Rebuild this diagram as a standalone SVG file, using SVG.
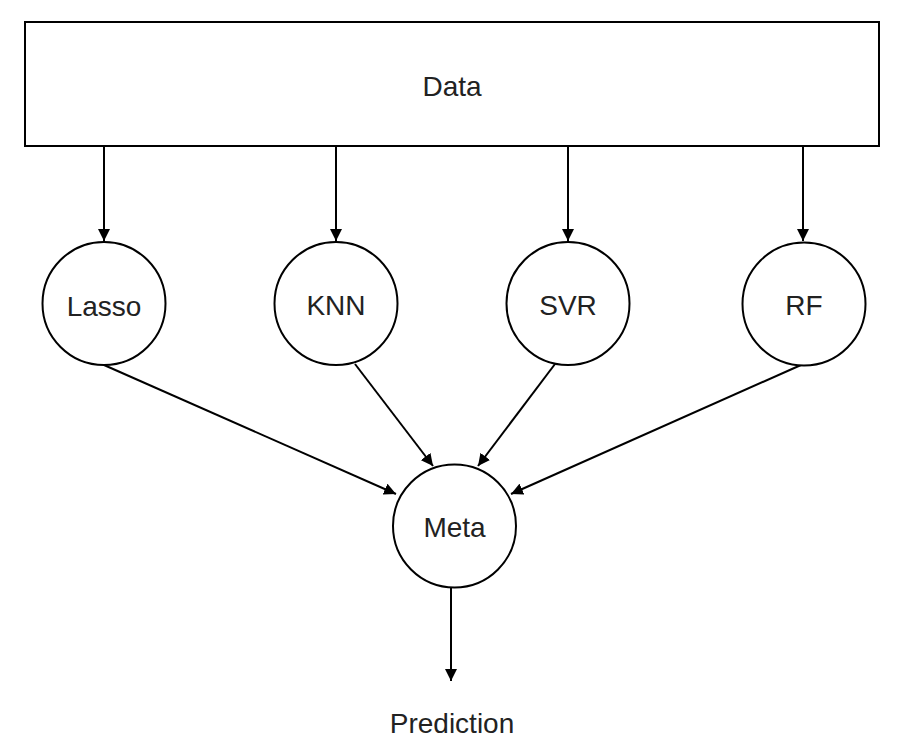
<svg xmlns="http://www.w3.org/2000/svg" width="922" height="744" viewBox="0 0 922 744">
<defs>
<style>
.n{fill:#fff;stroke:#000;stroke-width:2}
.t{font-family:"Liberation Sans",Arial,sans-serif;font-size:28px;fill:#222;text-anchor:middle}
.c line{stroke:#000;stroke-width:2}
</style>
<marker id="a" viewBox="0 0 10 10" refX="10" refY="5" markerWidth="12" markerHeight="12" markerUnits="userSpaceOnUse" orient="auto">
<path d="M0,0 L10,5 L0,10 z" fill="#000"/>
</marker>
</defs>
<rect width="922" height="744" fill="#fff"/>
<g class="c">
<line x1="104" y1="147" x2="104" y2="241" marker-end="url(#a)"/>
<line x1="336" y1="147" x2="336" y2="241" marker-end="url(#a)"/>
<line x1="568" y1="147" x2="568" y2="241" marker-end="url(#a)"/>
<line x1="803" y1="147" x2="803" y2="241" marker-end="url(#a)"/>
<line x1="104" y1="365" x2="396" y2="494" marker-end="url(#a)"/>
<line x1="355" y1="364" x2="433" y2="466" marker-end="url(#a)"/>
<line x1="555" y1="364" x2="478" y2="466" marker-end="url(#a)"/>
<line x1="801" y1="365" x2="511" y2="494" marker-end="url(#a)"/>
<line x1="451" y1="587" x2="451" y2="681" marker-end="url(#a)"/>
</g>
<g id="data"><rect class="n" x="25" y="22" width="854" height="124"/><text class="t" x="452" y="96">Data</text></g>
<g id="lasso"><circle class="n" cx="104" cy="303.5" r="61.5"/><text class="t" x="104" y="316">Lasso</text></g>
<g id="knn"><circle class="n" cx="336" cy="303.5" r="61.5"/><text class="t" x="336" y="315">KNN</text></g>
<g id="svr"><circle class="n" cx="568" cy="303.5" r="61.5"/><text class="t" x="568" y="315">SVR</text></g>
<g id="rf"><circle class="n" cx="804" cy="304" r="61.5"/><text class="t" x="804" y="315">RF</text></g>
<g id="meta"><circle class="n" cx="454.5" cy="526" r="61.5"/><text class="t" x="454.5" y="537">Meta</text></g>
<g id="prediction"><text class="t" x="452" y="733">Prediction</text></g>
</svg>
